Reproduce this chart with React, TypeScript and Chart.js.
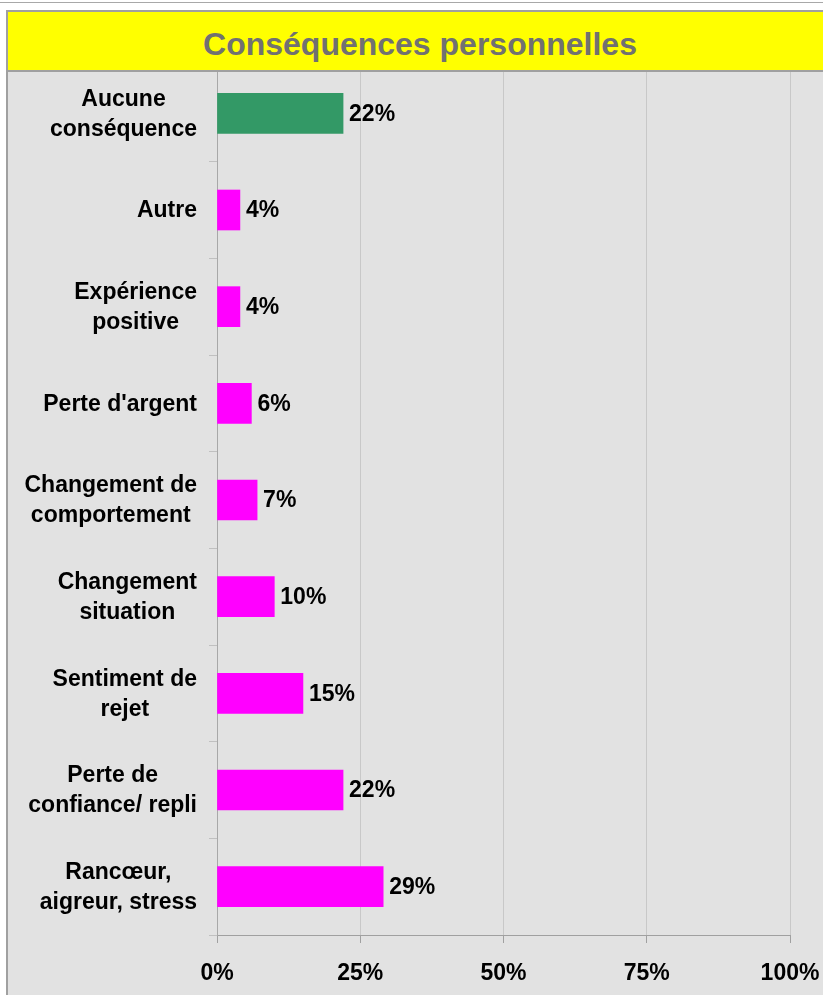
import React, { useEffect, useRef } from "react";
import { Chart, registerables } from "chart.js";

Chart.register(...registerables);

const categories: string[][] = [
  ["Aucune", "conséquence"],
  ["Autre"],
  ["Expérience", "positive"],
  ["Perte d'argent"],
  ["Changement de", "comportement"],
  ["Changement", "situation"],
  ["Sentiment de", "rejet"],
  ["Perte de", "confiance/ repli"],
  ["Rancœur,", "aigreur, stress"],
];
const values: number[] = [22, 4, 4, 6, 7, 10, 15, 22, 29];
const barColors: string[] = ["#339966", "#FF00FF", "#FF00FF", "#FF00FF", "#FF00FF", "#FF00FF", "#FF00FF", "#FF00FF", "#FF00FF"];
const xTicks: number[] = [0, 25, 50, 75, 100];
const title = "Conséquences personnelles";

const FONT = "'Liberation Sans', Arial, sans-serif";

const labelPlugin = {
  id: "customLabels",
  afterDraw(chart: any) {
    const ctx = chart.ctx;
    const y = chart.scales.y;
    const meta = chart.getDatasetMeta(0);
    ctx.save();
    ctx.fillStyle = "#000";
    ctx.font = `bold 23px ${FONT}`;
    ctx.textBaseline = "middle";
    categories.forEach((lines, i) => {
      const cy = y.getPixelForValue(i);
      const widths = lines.map((l) => ctx.measureText(l).width);
      const maxW = Math.max(...widths);
      const right = 197;
      const cx = right - maxW / 2;
      const lh = 30;
      ctx.textAlign = "center";
      lines.forEach((l, j) => {
        const ly = cy + (j - (lines.length - 1) / 2) * lh + 1;
        ctx.fillText(l, cx, ly);
      });
    });
    ctx.textAlign = "left";
    meta.data.forEach((bar: any, i: number) => {
      ctx.fillText(values[i] + "%", bar.x + 6, bar.y + 1);
    });
    ctx.restore();
  },
};

export default function App() {
  const ref = useRef<HTMLCanvasElement | null>(null);
  useEffect(() => {
    document.body.style.margin = "0";
    const chart = new Chart(ref.current as HTMLCanvasElement, {
      type: "bar",
      data: {
        labels: categories.map((c) => c.join(" ")),
        datasets: [
          {
            data: values,
            backgroundColor: barColors,
            barThickness: 40,
            borderWidth: 0,
          },
        ],
      },
      plugins: [labelPlugin],
      options: {
        indexAxis: "y",
        animation: false,
        responsive: false,
        maintainAspectRatio: false,
        layout: { padding: { top: 65, right: 33, left: 0, bottom: 0 } },
        plugins: { legend: { display: false }, tooltip: { enabled: false }, title: { display: false } },
        scales: {
          x: {
            min: 0,
            max: 100,
            afterBuildTicks: (scale: any) => {
              scale.ticks = xTicks.map((v) => ({ value: v }));
            },
            afterFit: (scale: any) => {
              scale.height = 60;
              scale.paddingLeft = 0;
              scale.paddingRight = 0;
            },
            grid: {
              color: "#c8c8c8",
              tickColor: "#a0a0a0",
              tickLength: 8,
              lineWidth: 1,
            },
            border: { display: true, color: "#a0a0a0", width: 1 },
            ticks: {
              color: "#000",
              font: { family: FONT, size: 23, weight: "bold" },
              padding: 17,
              callback: (v: any) => v + "%",
            },
          },
          y: {
            afterFit: (scale: any) => {
              scale.width = 217;
              scale.paddingTop = 0;
              scale.paddingBottom = 0;
            },
            grid: {
              display: true,
              drawOnChartArea: false,
              offset: true,
              tickLength: 8,
              color: "#c0c0c0",
              tickColor: "#c0c0c0",
            },
            border: { display: true, color: "#a8a8a8", width: 1 },
            ticks: { display: false },
          },
        },
      },
    } as any);
    return () => chart.destroy();
  }, []);

  return (
    <div style={{ position: "relative", width: 823, height: 995, background: "#fff", overflow: "hidden" }}>
      <div style={{ position: "absolute", left: 0, top: 2, width: 823, height: 1, background: "#a8a8a8" }} />
      <div
        style={{
          position: "absolute",
          left: 6,
          top: 10,
          width: 830,
          height: 990,
          background: "#e2e2e2",
          borderLeft: "2px solid #a0a0a0",
          boxSizing: "border-box",
        }}
      />
      <canvas ref={ref} width={823} height={995} style={{ position: "absolute", left: 0, top: 0 }} />
      <div
        style={{
          position: "absolute",
          left: 6,
          top: 10,
          width: 830,
          height: 62,
          background: "#ffff00",
          border: "2px solid #a0a0a0",
          boxSizing: "border-box",
        }}
      >
        <span
          style={{
            fontFamily: FONT,
            fontWeight: "bold",
            fontSize: 32,
            color: "#717171",
            position: "absolute",
            left: 0,
            width: 824,
            textAlign: "center",
            top: 14,
            lineHeight: "36px",
          }}
        >
          {title}
        </span>
      </div>
    </div>
  );
}
